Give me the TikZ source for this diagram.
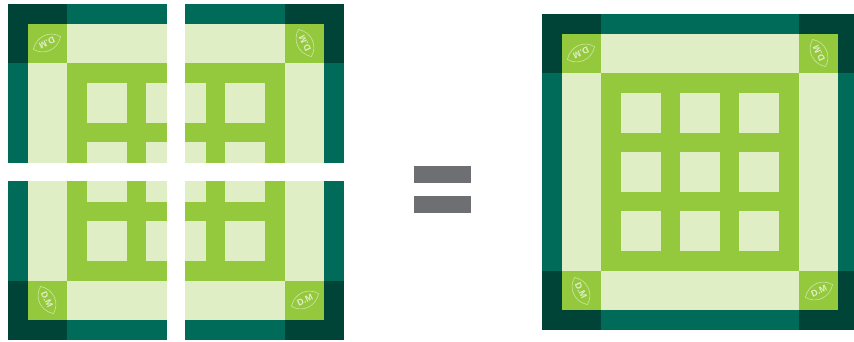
\documentclass[tikz,border=0pt]{standalone}
\usepackage{fontspec}
\setsansfont{Liberation Sans}
\definecolor{tileDark}{HTML}{004337}
\definecolor{tileStrip}{HTML}{006B58}
\definecolor{tileGreen}{HTML}{95C93D}
\definecolor{tilePale}{HTML}{E0EEC6}
\definecolor{signGray}{HTML}{6E6F73}
\tikzset{
	logotext/.style={inner sep=0pt, text=tilePale, font=\sffamily\bfseries\fontsize{9}{9}\selectfont},
	leafline/.style={draw=tilePale!75!tileGreen, line width=0.6pt},
	signbar/.style={fill=signGray, minimum width=57pt, minimum height=17pt, inner sep=0pt},
	% one corner of the tile, drawn from its outer corner
	quarter/.pic={
		\fill[tileStrip] (0,0) rectangle (159,159);
		\fill[tileDark] (0,0) rectangle (59,59);
		\fill[tilePale] (20,20) rectangle (159,159);
		\fill[tileGreen] (20,20) rectangle (59,59);
		\fill[tileGreen] (59,59) rectangle (159,159);
		\foreach \x/\w in {79/119, 138/159}{
			\foreach \y/\h in {79/119, 138/159}{
				\fill[tilePale] (\x,\y) rectangle (\w,\h);
			}
		}
	},
	leaf/.pic={
		\draw[leafline] (-15,0) .. controls (-8,10.5) and (7,10.5) .. (15,0)
			.. controls (8,-10.5) and (-7,-10.5) .. (-15,0) -- cycle;
		\node[logotext] (-text) at (0,0) {D.M};
	}
}
\begin{document}
\begin{tikzpicture}[x=1pt, y=-1pt, transform shape]
	\clip (0,0) rectangle (854,341);
	\fill[white] (0,0) rectangle (854,341);

	% Pieces set apart
	\pic (ptl) at (8,4) {quarter};
	\pic[xscale=-1] (ptr) at (344,4) {quarter};
	\pic[yscale=-1] (pbl) at (8,340) {quarter};
	\pic[xscale=-1, yscale=-1] (pbr) at (344,340) {quarter};

	\pic[rotate=205] (ltl) at (47,43) {leaf};
	\pic[rotate=115] (ltr) at (305,43) {leaf};
	\pic[rotate=-65] (lbl) at (47,300) {leaf};
	\pic[rotate=25] (lbr) at (305,300) {leaf};

	% Equals sign
	\node[signbar] (upperbar) at (442.5,174.5) {};
	\node[signbar] (lowerbar) at (442.5,204.5) {};

	% Whole tile
	\pic (ftl) at (541.6,14) {quarter};
	\pic[xscale=-1] (ftr) at (857.6,14) {quarter};
	\pic[yscale=-1] (fbl) at (541.6,330) {quarter};
	\pic[xscale=-1, yscale=-1] (fbr) at (857.6,330) {quarter};

	\pic[rotate=205] (mtl) at (581,53) {leaf};
	\pic[rotate=115] (mtr) at (819,53) {leaf};
	\pic[rotate=-65] (mbl) at (581,291) {leaf};
	\pic[rotate=25] (mbr) at (819,291) {leaf};
\end{tikzpicture}
\end{document}
